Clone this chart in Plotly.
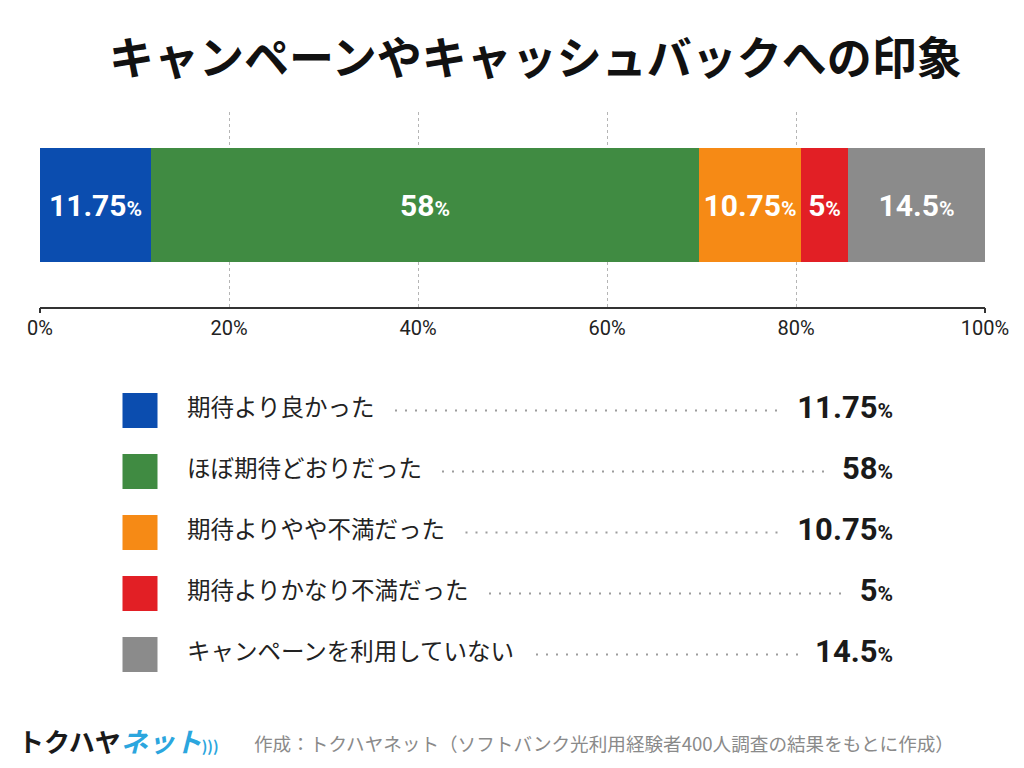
import plotly.graph_objects as go

# ---------------- data ----------------
categories = ["期待より良かった", "ほぼ期待どおりだった", "期待よりやや不満だった",
              "期待よりかなり不満だった", "キャンペーンを利用していない"]
values = [11.75, 58, 10.75, 5, 14.5]
colors = ["#0B4DAF", "#408B42", "#F68A15", "#E21F25", "#8B8B8B"]
tick_vals = [0, 20, 40, 60, 80, 100]
tick_labels = ["0%", "20%", "40%", "60%", "80%", "100%"]
grid_vals = [20, 40, 60, 80]
title_text = "キャンペーンやキャッシュバックへの印象"
source_text = "作成：トクハヤネット（ソフトバンク光利用経験者400人調査の結果をもとに作成）"

# ---------------- layout helpers ----------------
W, H = 1024, 768
JP = "Noto Sans CJK JP"
NUM = "Roboto"


def fx(px):
    return px / W


def fy(py):
    return 1 - py / H


def pct_html(v, big, small):
    return (f"<b><span style='font-size:{big}px'>{v:g}</span>"
            f"<span style='font-size:{small}px'>%</span></b>")


fig = go.Figure()

# stacked bar
for cat, val, col in zip(categories, values, colors):
    fig.add_trace(go.Bar(
        x=[val], y=[0.523], width=[0.585], orientation="h",
        marker=dict(color=col, line=dict(width=0)),
        name=cat, text=[pct_html(val, 30, 21)],
        textposition="inside", insidetextanchor="middle", textangle=0,
        textfont=dict(color="white", family=NUM, size=30),
        hoverinfo="skip", xaxis="x", yaxis="y", showlegend=False,
    ))

# helper traces so the end-tick overlay axes are drawn
fig.add_trace(go.Scatter(x=[None], y=[None], xaxis="x3", yaxis="y", showlegend=False, hoverinfo="skip"))
fig.add_trace(go.Scatter(x=[None], y=[None], xaxis="x4", yaxis="y", showlegend=False, hoverinfo="skip"))

# ---------------- legend table ----------------
sq_x = 140
label_x = 187
value_right = 893
char_w = 23.5


def value_width(v):
    s = f"{v:g}"
    w = 0
    for ch in s:
        w += 8 if ch == "." else 17
    return w + 18

fig.add_trace(go.Scatter(
    x=[sq_x] * len(categories), y=categories, mode="markers",
    marker=dict(symbol="square", size=35, color=colors, line=dict(width=0)),
    xaxis="x2", yaxis="y2", hoverinfo="skip", showlegend=False,
))
fig.add_trace(go.Scatter(
    x=[label_x] * len(categories), y=categories, mode="text",
    text=categories, textposition="middle right",
    textfont=dict(family=JP, size=23.5, color="#222222"),
    xaxis="x2", yaxis="y2", hoverinfo="skip", showlegend=False,
))
for cat, val in zip(categories, values):
    start = label_x + len(cat) * char_w + 20
    end = value_right - value_width(val) - 16
    fig.add_trace(go.Scatter(
        x=[start, end], y=[cat, cat], mode="lines",
        line=dict(color="#9C9C9C", width=2, dash="2px,8px"),
        xaxis="x2", yaxis="y2", hoverinfo="skip", showlegend=False,
    ))
fig.add_trace(go.Scatter(
    x=[value_right] * len(categories), y=categories, mode="text",
    text=[pct_html(v, 31, 21) for v in values], textposition="middle left",
    textfont=dict(family=NUM, size=31, color="#1A1A1A"),
    xaxis="x2", yaxis="y2", hoverinfo="skip", showlegend=False,
))

# ---------------- axes ----------------
bar_dom_x = [fx(40), fx(985)]
fig.update_layout(
    width=W, height=H,
    margin=dict(l=0, r=0, t=0, b=0, autoexpand=False),
    paper_bgcolor="white", plot_bgcolor="rgba(0,0,0,0)",
    barmode="stack", bargap=0,
    showlegend=False,
    xaxis=dict(
        domain=bar_dom_x, range=[0, 100], anchor="y", automargin=False,
        tickvals=tick_vals, ticktext=tick_labels, ticks="",
        tickfont=dict(family=NUM, size=20, color="#222222"),
        ticklabelstandoff=2,
        showline=True, linecolor="#333333", linewidth=2,
        showgrid=False, zeroline=False, fixedrange=True,
        minor=dict(tickvals=grid_vals, showgrid=True, griddash="dot",
                   gridcolor="#B5B5B5", gridwidth=1, ticks=""),
    ),
    xaxis3=dict(
        domain=bar_dom_x, range=[0, 100], anchor="y", overlaying="x", automargin=False,
        tickvals=[0, 100], ticks="outside", ticklen=5, tickwidth=2,
        tickcolor="#333333", showticklabels=False, showline=False,
        showgrid=False, zeroline=False,
    ),
    xaxis4=dict(
        domain=bar_dom_x, range=[0, 100], anchor="y", overlaying="x", automargin=False,
        tickvals=[0, 100], ticks="inside", ticklen=6, tickwidth=2,
        tickcolor="#333333", showticklabels=False, showline=False,
        showgrid=False, zeroline=False,
    ),
    yaxis=dict(domain=[fy(307), fy(112)], range=[0, 1], visible=False,
               fixedrange=True, automargin=False),
    xaxis2=dict(domain=[0, 1], range=[0, W], anchor="y2", visible=False,
                fixedrange=True, automargin=False),
    yaxis2=dict(domain=[fy(685), fy(380)], type="category", categoryarray=categories,
                range=[len(categories) - 0.5, -0.5], anchor="x2", visible=False,
                fixedrange=True, automargin=False),
)

# ---------------- text ----------------
fig.add_annotation(
    x=fx(535), y=fy(55), xref="paper", yref="paper", showarrow=False,
    text=f"<b>{title_text}</b>", font=dict(family=JP, size=45, color="#111111"),
    xanchor="center", yanchor="middle",
)
fig.add_annotation(
    x=fx(16), y=fy(740), xref="paper", yref="paper", showarrow=False,
    text=("<b>トクハヤ</b><b><i><span style='color:#2BA6DE;font-size:27px'>ネット</span></i></b>"
          "<span style='color:#2BA6DE;font-size:15px'><b>)))</b></span>"),
    font=dict(family=JP, size=26, color="#1A1A1A"),
    xanchor="left", yanchor="middle",
)
fig.add_annotation(
    x=fx(252), y=fy(742), xref="paper", yref="paper", showarrow=False,
    text=source_text, font=dict(family=JP, size=18.6, color="#8A8A8A"),
    xanchor="left", yanchor="middle",
)

fig.write_html("out.html")
